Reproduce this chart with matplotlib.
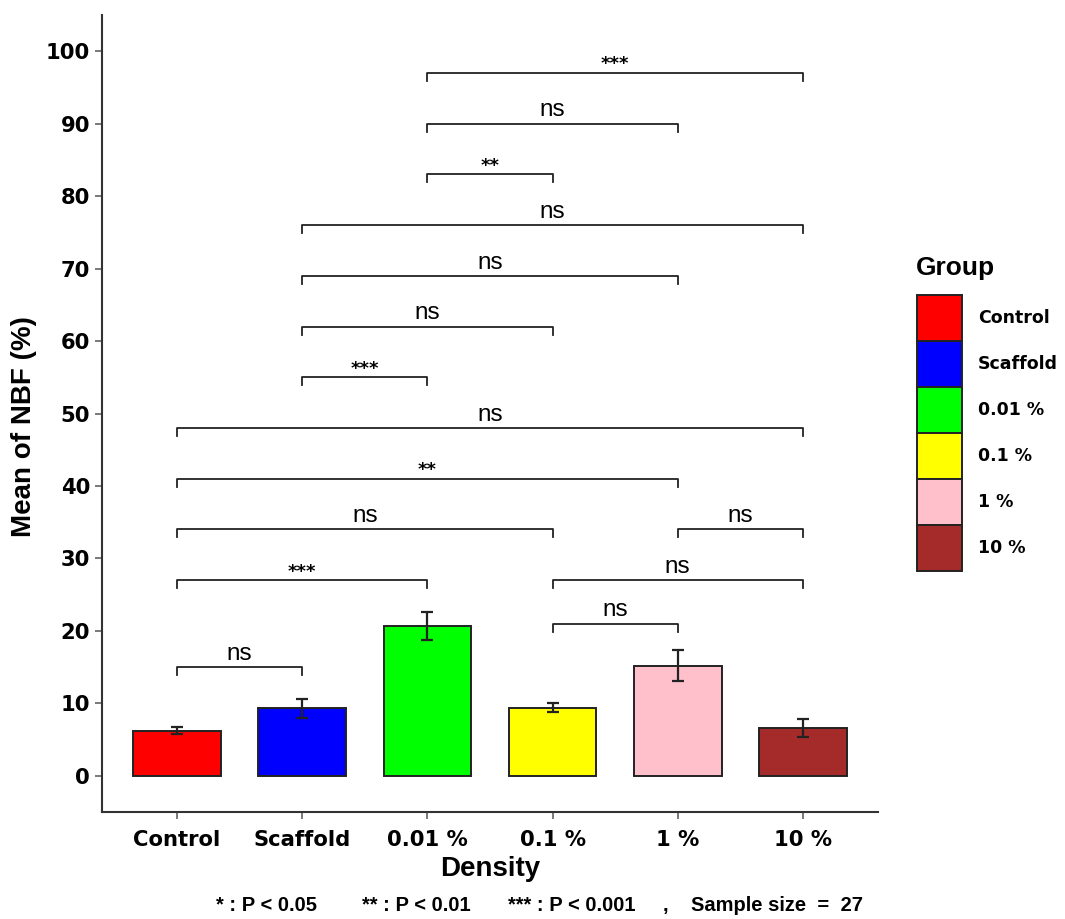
import matplotlib.pyplot as plt
from matplotlib.patches import Patch

plt.rcParams['font.family'] = ['Liberation Sans', 'DejaVu Sans']

groups = ['Control', 'Scaffold', '0.01 %', '0.1 %', '1 %', '10 %']
means = [6.2, 9.3, 20.7, 9.4, 15.2, 6.6]
errs = [0.5, 1.3, 1.9, 0.6, 2.1, 1.3]
colors = ['#ff0000', '#0000ff', '#00ff00', '#ffff00', '#ffc0cb', '#a52a2a']

# significance brackets: (group a, group b, height, label)
brackets = [
    (1, 2, 15, 'ns'),
    (1, 3, 27, '***'),
    (1, 4, 34, 'ns'),
    (1, 5, 41, '**'),
    (1, 6, 48, 'ns'),
    (2, 3, 55, '***'),
    (2, 4, 62, 'ns'),
    (2, 5, 69, 'ns'),
    (2, 6, 76, 'ns'),
    (3, 4, 83, '**'),
    (3, 5, 90, 'ns'),
    (3, 6, 97, '***'),
    (4, 5, 21, 'ns'),
    (4, 6, 27, 'ns'),
    (5, 6, 34, 'ns'),
]

caption = ['* : P < 0.05', '** : P < 0.01', '*** : P < 0.001', ',', 'Sample size  =  27']
caption_x = [267, 416, 572, 665, 777]   # pixel centres

wide = ['DejaVu Sans']

W, H = 1065, 919
fig = plt.figure(figsize=(W / 100, H / 100), dpi=100)
ax = fig.add_axes([102 / W, 1 - 812 / H, 776 / W, 797 / H])

xs = list(range(1, len(groups) + 1))
bars = ax.bar(xs, means, width=0.7, color=colors, edgecolor='#222222', linewidth=1.4, zorder=2)
ax.errorbar(xs, means, yerr=errs, fmt='none', ecolor='#222222', elinewidth=1.6,
            capsize=4.3, capthick=1.6, zorder=3)

tip = 1.1
for a, b, h, lab in brackets:
    ax.plot([a, a, b, b], [h - tip, h, h, h - tip], color='#222222', lw=1.3, zorder=2)
    if lab == 'ns':
        ax.text((a + b) / 2, h + 1.0, lab, ha='center', va='baseline', fontsize=17.5)
    else:
        ax.text((a + b) / 2, h + 0.5, lab, ha='center', va='baseline', fontsize=13,
                fontweight='bold', family=wide)

ax.set_xlim(0.4, 6.6)
ax.set_ylim(-5, 105)
ax.set_yticks(range(0, 101, 10))
ax.set_xticks(xs)
ax.set_xticklabels(groups)
for sp in ['top', 'right']:
    ax.spines[sp].set_visible(False)
for sp in ['left', 'bottom']:
    ax.spines[sp].set_linewidth(1.5)
    ax.spines[sp].set_color('#333333')
ax.tick_params(axis='both', width=1.1, length=5, color='#555555')
ax.tick_params(axis='x', pad=8)
for t in ax.get_xticklabels() + ax.get_yticklabels():
    t.set_fontweight('bold')
    t.set_fontsize(15.2)
    t.set_family(wide)
ax.set_ylabel('Mean of NBF (%)', fontsize=20, fontweight='bold')
ax.yaxis.set_label_coords(-0.084, 0.483)
ax.set_xlabel('Density', fontsize=20, fontweight='bold')
ax.xaxis.label.set_va('baseline')
ax.xaxis.set_label_coords(0.5, -0.0803)

handles = [Patch(facecolor=c, edgecolor='#222222', linewidth=1.4) for c in colors]
leg = fig.legend(handles, groups, loc='upper left', bbox_to_anchor=(917 / W, 1 - 295 / H),
                 frameon=False, prop={'family': wide, 'weight': 'bold', 'size': 12.5},
                 handlelength=2.6, handleheight=3.7, labelspacing=0.0,
                 handletextpad=0.92, borderaxespad=0, borderpad=0)
fig.text(916 / W, 1 - 268 / H, 'Group', ha='left', va='center', fontsize=19,
         fontweight='bold')

for txt, px in zip(caption, caption_x):
    fig.text(px / W, 1 - 911 / H, txt, ha='center', va='baseline', fontsize=14.5,
             fontweight='bold')

fig.savefig('out.png', dpi=100)
